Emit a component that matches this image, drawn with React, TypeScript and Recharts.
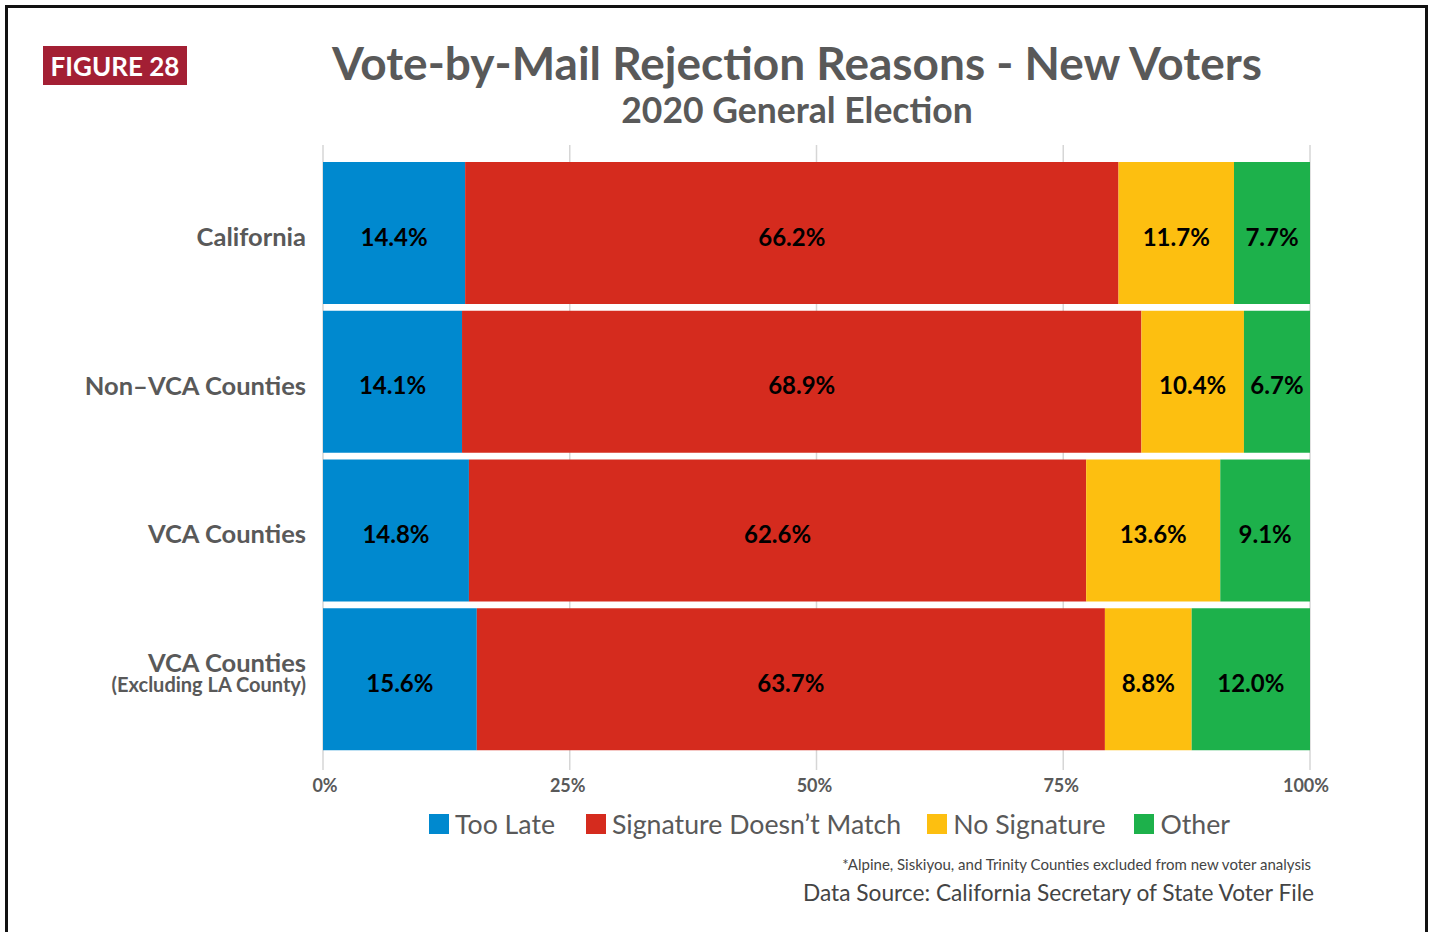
import React from 'react';
import { BarChart, Bar, XAxis, YAxis, CartesianGrid, LabelList } from 'recharts';

const categories = ['California', 'Non\u2013VCA Counties', 'VCA Counties', 'VCA Counties'];
const subLabels = ['', '', '', '(Excluding LA County)'];
const tooLate = [14.4, 14.1, 14.8, 15.6];
const sigMismatch = [66.2, 68.9, 62.6, 63.7];
const noSignature = [11.7, 10.4, 13.6, 8.8];
const other = [7.7, 6.7, 9.1, 12.0];
const xTicks = [0, 0.25, 0.5, 0.75, 1];
const xTickLabels = ['0%', '25%', '50%', '75%', '100%'];

const seriesNames = ['Too Late', 'Signature Doesn\u2019t Match', 'No Signature', 'Other'];
const seriesKeys = ['tooLate', 'sigMismatch', 'noSignature', 'other'];
const COLORS = ['#0089cf', '#d52b1e', '#fdbf10', '#1db14b'];

const data = categories.map((name, i) => ({
  id: 'c' + i,
  name,
  sub: subLabels[i],
  tooLate: tooLate[i],
  sigMismatch: sigMismatch[i],
  noSignature: noSignature[i],
  other: other[i],
}));

const FONT = 'Lato, "Open Sans", sans-serif';
const GRAY = '#595959';

const YTick = (props: any) => {
  const { x, y, payload } = props;
  const row = data[payload.index];
  if (row && row.sub) {
    return (
      <g>
        <text x={x - 17} y={y - 7} textAnchor="end" fill={GRAY} fontFamily={FONT} fontWeight={700} fontSize={25.5}>
          {row.name}
        </text>
        <text x={x - 17} y={y + 13} textAnchor="end" fill={GRAY} fontFamily={FONT} fontWeight={700} fontSize={20}>
          {row.sub}
        </text>
      </g>
    );
  }
  return (
    <text x={x - 17} y={y + 13} textAnchor="end" fill={GRAY} fontFamily={FONT} fontWeight={700} fontSize={25.5}>
      {row ? row.name : payload.value}
    </text>
  );
};

const XTick = (props: any) => {
  const { x, y, payload } = props;
  const idx = xTicks.indexOf(payload.value);
  const shift = idx === 4 ? -4 : idx === 0 ? 2 : -2;
  return (
    <text x={x + shift} y={y + 20} textAnchor="middle" fill={GRAY} fontFamily={FONT} fontWeight={700} fontSize={18}>
      {idx >= 0 ? xTickLabels[idx] : ''}
    </text>
  );
};

const fmt = (v: any) => Number(v).toFixed(1) + '%';

export default function App() {
  return (
    <div style={{ position: 'fixed', left: 0, top: 0, width: 1431, height: 932, overflow: 'hidden', background: '#fff' }}>
      <div
        style={{
          position: 'absolute',
          left: 5,
          top: 5,
          width: 1417,
          height: 927,
          borderTop: '3px solid #111',
          borderLeft: '3px solid #111',
          borderRight: '3px solid #111',
        }}
      />
      <div
        style={{
          position: 'absolute',
          left: 43,
          top: 46,
          width: 144,
          height: 39,
          background: '#a31f34',
          color: '#fff',
          fontFamily: FONT,
          fontWeight: 700,
          fontSize: 26,
          lineHeight: '40px',
          textAlign: 'center',
        }}
      >
        FIGURE 28
      </div>
      <svg width={1431} height={932} style={{ position: 'absolute', left: 0, top: 0, pointerEvents: 'none' }}>
        <text x={797} y={80} textAnchor="middle" fill={GRAY} fontFamily={FONT} fontWeight={700} fontSize={46}>
          Vote-by-Mail Rejection Reasons - New Voters
        </text>
        <text x={797} y={123} textAnchor="middle" fill={GRAY} fontFamily={FONT} fontWeight={700} fontSize={35.5}>
          2020 General Election
        </text>
        <text x={1311} y={870} textAnchor="end" fill="#444" fontFamily={FONT} fontSize={15}>
          *Alpine, Siskiyou, and Trinity Counties excluded from new voter analysis
        </text>
        <text x={1314} y={901} textAnchor="end" fill="#444" fontFamily={FONT} fontSize={22.7}>
          Data Source: California Secretary of State Voter File
        </text>
      </svg>
      <div style={{ position: 'absolute', left: 0, top: 0 }}>
        <BarChart
          layout="vertical"
          width={1431}
          height={932}
          data={data}
          stackOffset="expand"
          barCategoryGap={3.5}
          margin={{ top: 145, right: 121, bottom: 132, left: 143 }}
        >
          <CartesianGrid horizontal={false} stroke="#d6d6d6" strokeWidth={1.5} />
          <XAxis
            type="number"
            domain={[0, 1]}
            ticks={xTicks}
            interval={0}
            axisLine={false}
            tickLine={false}
            height={30}
            tickSize={0}
            tick={<XTick />}
          />
          <YAxis
            type="category"
            dataKey="id"
            width={180}
            axisLine={false}
            tickLine={false}
            tickSize={0}
            tickMargin={0}
            interval={0}
            padding={{ top: 13.5, bottom: 16.5 }}
            tick={<YTick />}
          />
          {seriesKeys.map((k, i) => (
            <Bar key={k} dataKey={k} name={seriesNames[i]} stackId="a" fill={COLORS[i]} isAnimationActive={false}>
              <LabelList
                dataKey={k}
                position="center"
                formatter={fmt}
                fill="#000"
                fontFamily={FONT}
                fontWeight={700}
                fontSize={24}
                dy={4}
              />
            </Bar>
          ))}
        </BarChart>
      </div>
      <div
        style={{
          position: 'absolute',
          left: 429,
          top: 808,
          display: 'flex',
          alignItems: 'center',
          fontFamily: FONT,
          fontSize: 26.7,
          color: GRAY,
          whiteSpace: 'nowrap',
        }}
      >
        {seriesNames.map((n, i) => (
          <div key={n} style={{ display: 'flex', alignItems: 'center', marginRight: i === 0 ? 31 : i === 1 ? 26 : 29 }}>
            <span style={{ display: 'inline-block', width: 20, height: 20, background: COLORS[i], marginRight: 6 }} />
            <span>{n}</span>
          </div>
        ))}
      </div>
    </div>
  );
}
